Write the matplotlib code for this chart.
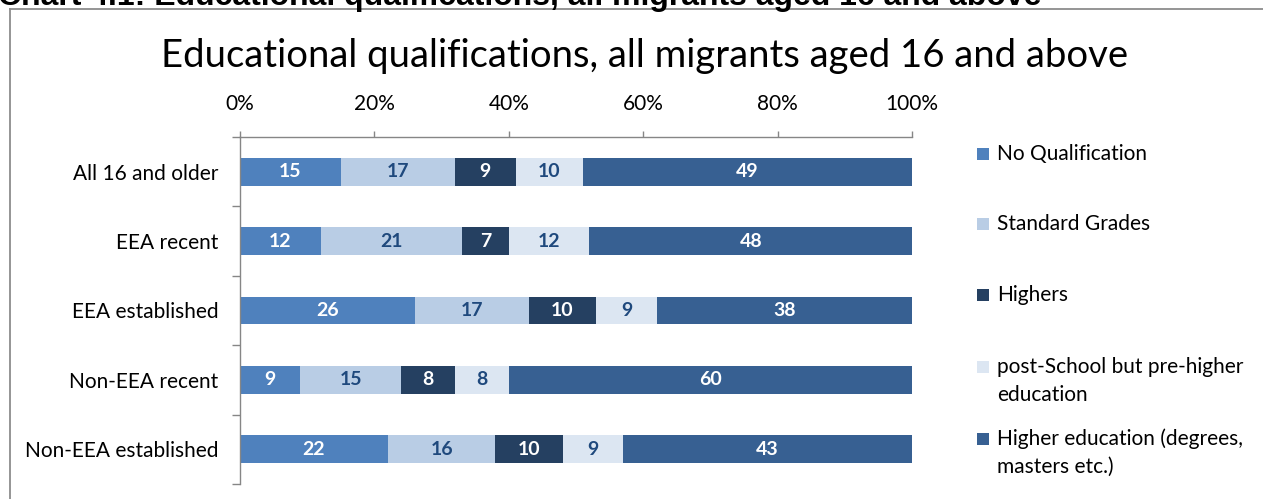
import matplotlib
matplotlib.use("Agg")
import matplotlib.pyplot as plt
from matplotlib.patches import Rectangle
from matplotlib.lines import Line2D
import numpy as np

categories = ["All 16 and older", "EEA recent", "EEA established", "Non-EEA recent", "Non-EEA established"]
series_names = ["No Qualification", "Standard Grades", "Highers",
                "post-School but pre-higher\neducation", "Higher education (degrees,\nmasters etc.)"]
no_qual = [15, 12, 26, 9, 22]
standard_grades = [17, 21, 17, 15, 16]
highers = [9, 7, 10, 8, 10]
post_school = [10, 12, 9, 8, 9]
higher_ed = [49, 48, 38, 60, 43]
xtick_values = [0, 20, 40, 60, 80, 100]
xtick_labels = ["0%", "20%", "40%", "60%", "80%", "100%"]

title = "Educational qualifications, all migrants aged 16 and above"
header = "Chart 4.1: Educational qualifications, all migrants aged 16 and above"

colors = ["#4F81BD", "#B9CDE5", "#254061", "#DCE6F2", "#376092"]
label_colors = ["white", "#1F497D", "white", "#1F497D", "white"]

W, H = 1263, 499
fig = plt.figure(figsize=(W / 100, H / 100), dpi=100)
FONT = "Lato"

def fx(px):
    return px / W

def fy(py):
    return 1 - py / H

# axes placement
ax_l, ax_r, ax_t, ax_b = 240, 912, 137, 484
ax = fig.add_axes([fx(ax_l), fy(ax_b), fx(ax_r - ax_l), (ax_b - ax_t) / H])

data = np.array([no_qual, standard_grades, highers, post_school, higher_ed], dtype=float)
ypos = np.arange(len(categories))
left = np.zeros(len(categories))
for i, name in enumerate(series_names):
    vals = data[i]
    bars = ax.barh(ypos, vals, left=left, height=0.40, color=colors[i], label=name, edgecolor="none")
    for j, b in enumerate(bars):
        ax.text(left[j] + vals[j] / 2, ypos[j], f"{int(vals[j])}", ha="center", va="center",
                color=label_colors[i], fontsize=14, fontweight="bold", family=FONT)
    left = left + vals

ax.set_xlim(0, 100)
ax.set_ylim(len(categories) - 0.5, -0.5)
ax.xaxis.tick_top()
ax.set_xticks(xtick_values)
ax.set_xticklabels(xtick_labels, fontsize=15, family=FONT)
ax.set_yticks(np.arange(-0.5, len(categories)))
ax.set_yticklabels([])
ax.set_yticks(ypos, minor=True)
ax.set_yticklabels(categories, minor=True, fontsize=15, family=FONT)
ax.tick_params(axis="y", which="minor", length=0, pad=15.5)
ax.tick_params(axis="y", which="major", length=6, width=1, color="#868686", direction="out")
ax.tick_params(axis="x", length=4.5, width=1, color="#868686", direction="out", pad=12)
for s in ["right", "bottom"]:
    ax.spines[s].set_visible(False)
for s in ["left", "top"]:
    ax.spines[s].set_color("#868686")
    ax.spines[s].set_linewidth(1)

# chart title
fig.text(fx(645), fy(67), title, ha="center", va="baseline", fontsize=27.5, family=FONT, color="black")

# header above chart area (cut off at the top edge, as in the reference)
fig.text(fx(-2), fy(5), header, ha="left", va="baseline", fontsize=23, fontweight="bold",
         family="Liberation Sans", color="black")

# chart border
fig.add_artist(Line2D([fx(10), fx(10)], [fy(9), fy(H + 5)], color="#8C8C8C", lw=1.3))
fig.add_artist(Line2D([fx(10), fx(W + 5)], [fy(9), fy(9)], color="#8C8C8C", lw=1.3))

# legend (manual placement to match reference)
sq_y = [154, 224, 295, 367, 439]
sq = 12
for i, name in enumerate(series_names):
    fig.add_artist(Rectangle((fx(977), fy(sq_y[i] + sq / 2)), fx(sq), sq / H,
                             facecolor=colors[i], edgecolor="none"))
    lines = name.split("\n")
    for k, ln in enumerate(lines):
        fig.text(fx(997), fy(sq_y[i] + k * 28), ln, ha="left", va="center",
                 fontsize=15, family=FONT, color="black")

fig.savefig("out.png", dpi=100)
